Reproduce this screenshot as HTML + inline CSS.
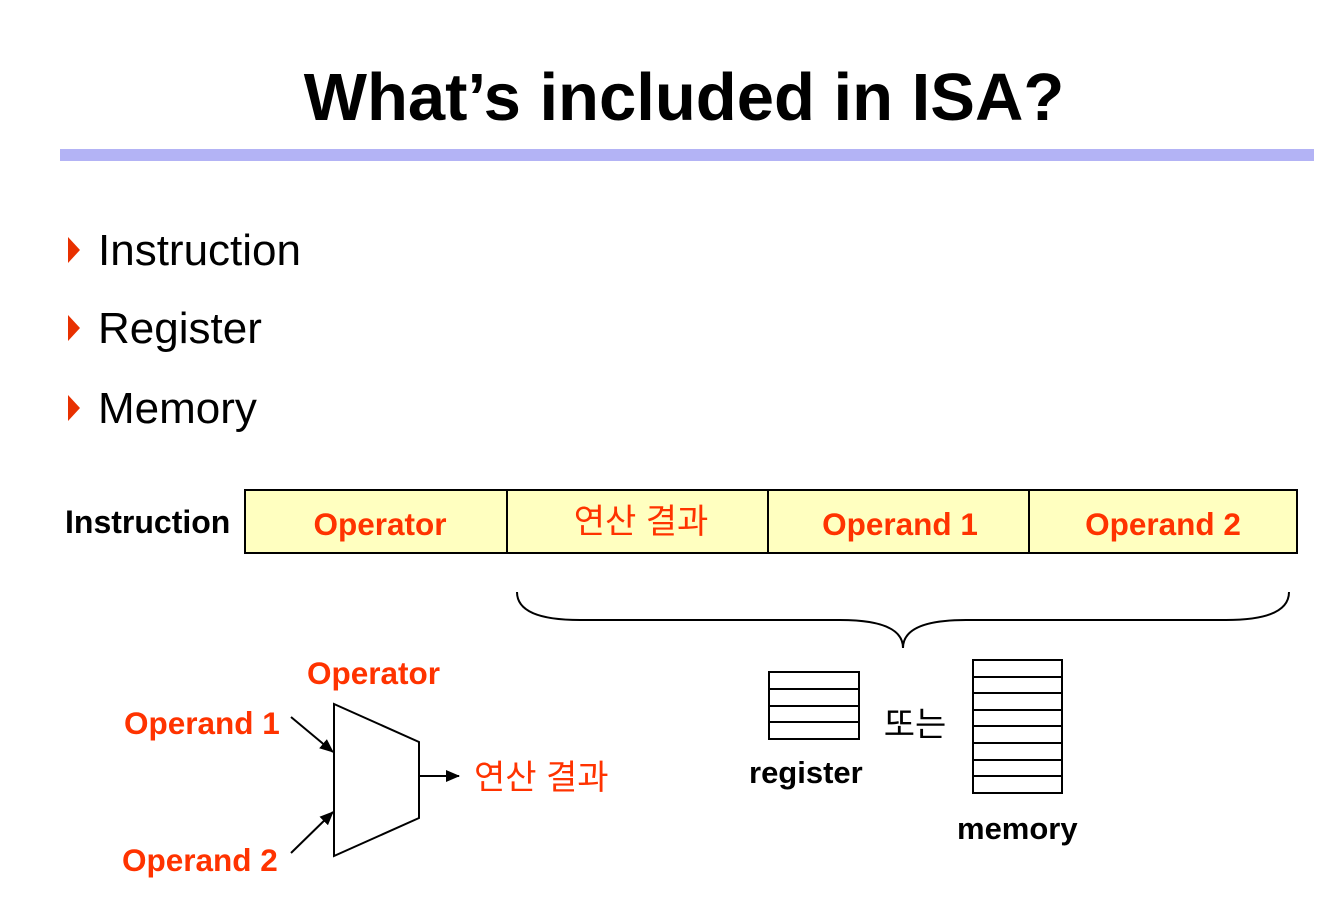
<!DOCTYPE html>
<html><head><meta charset="utf-8"><style>
html,body{margin:0;padding:0;background:#fff}
svg{display:block}
text{font-family:"Liberation Sans","Noto Sans CJK KR",sans-serif}
</style></head><body>
<svg width="1344" height="917" viewBox="0 0 1344 917" xmlns="http://www.w3.org/2000/svg">
<defs><marker id="ar" markerWidth="14" markerHeight="12" refX="13" refY="6" orient="auto" markerUnits="userSpaceOnUse"><path d="M0,0 L14,6 L0,12 z" fill="#000"/></marker></defs>
<text x="684" y="120" font-size="67" font-weight="bold" text-anchor="middle">What’s included in ISA?</text>
<rect x="60" y="149" width="1254" height="12" fill="#b3b3f5"/>
<g font-size="44">
<path d="M68,237 L80,250 L68,263 z" fill="#e83000"/>
<text x="98" y="265">Instruction</text>
<path d="M68,315 L80,328 L68,341 z" fill="#e83000"/>
<text x="98" y="343">Register</text>
<path d="M68,395 L80,408 L68,421 z" fill="#e83000"/>
<text x="98" y="423">Memory</text>
</g>
<text x="65" y="533" font-size="32" font-weight="bold">Instruction</text>
<g fill="#ffffc0" stroke="#000" stroke-width="2">
<rect x="245" y="490" width="262" height="63"/>
<rect x="507" y="490" width="261" height="63"/>
<rect x="768" y="490" width="261" height="63"/>
<rect x="1029" y="490" width="268" height="63"/>
</g>
<g font-size="31.5" font-weight="bold" fill="#ff3300" text-anchor="middle">
<text x="380" y="535">Operator</text>
<text x="641" y="533" font-size="34" font-weight="normal">연산 결과</text>
<text x="900" y="535">Operand 1</text>
<text x="1163" y="535">Operand 2</text>
</g>
<path d="M517,592 Q517,620 580,620 L840,620 Q903,620 903,648 Q903,620 966,620 L1226,620 Q1289,620 1289,592" fill="none" stroke="#000" stroke-width="2"/>
<path d="M334,704 L419,742 L419,818 L334,856 z" fill="#fff" stroke="#000" stroke-width="2"/>
<line x1="291" y1="717" x2="333" y2="752" stroke="#000" stroke-width="2" marker-end="url(#ar)"/>
<line x1="291" y1="853" x2="333" y2="812" stroke="#000" stroke-width="2" marker-end="url(#ar)"/>
<line x1="419" y1="776" x2="459" y2="776" stroke="#000" stroke-width="2" marker-end="url(#ar)"/>
<g font-size="31.5" font-weight="bold" fill="#ff3300">
<text x="307" y="684">Operator</text>
<text x="124" y="734">Operand 1</text>
<text x="122" y="871">Operand 2</text>
<text x="474" y="789" font-size="34" font-weight="normal">연산 결과</text>
</g>
<g fill="none" stroke="#000" stroke-width="2">
<rect x="769" y="672" width="90" height="67"/>
<line x1="769" y1="689" x2="859" y2="689"/>
<line x1="769" y1="706" x2="859" y2="706"/>
<line x1="769" y1="722" x2="859" y2="722"/>
<rect x="973" y="660" width="89" height="133"/>
<line x1="973" y1="677" x2="1062" y2="677"/>
<line x1="973" y1="693" x2="1062" y2="693"/>
<line x1="973" y1="710" x2="1062" y2="710"/>
<line x1="973" y1="726" x2="1062" y2="726"/>
<line x1="973" y1="743" x2="1062" y2="743"/>
<line x1="973" y1="760" x2="1062" y2="760"/>
<line x1="973" y1="776" x2="1062" y2="776"/>
</g>
<text x="915" y="736" font-size="34" text-anchor="middle">또는</text>
<text x="749" y="783" font-size="31" font-weight="bold">register</text>
<text x="957" y="839" font-size="31" font-weight="bold">memory</text>
</svg>
</body></html>
